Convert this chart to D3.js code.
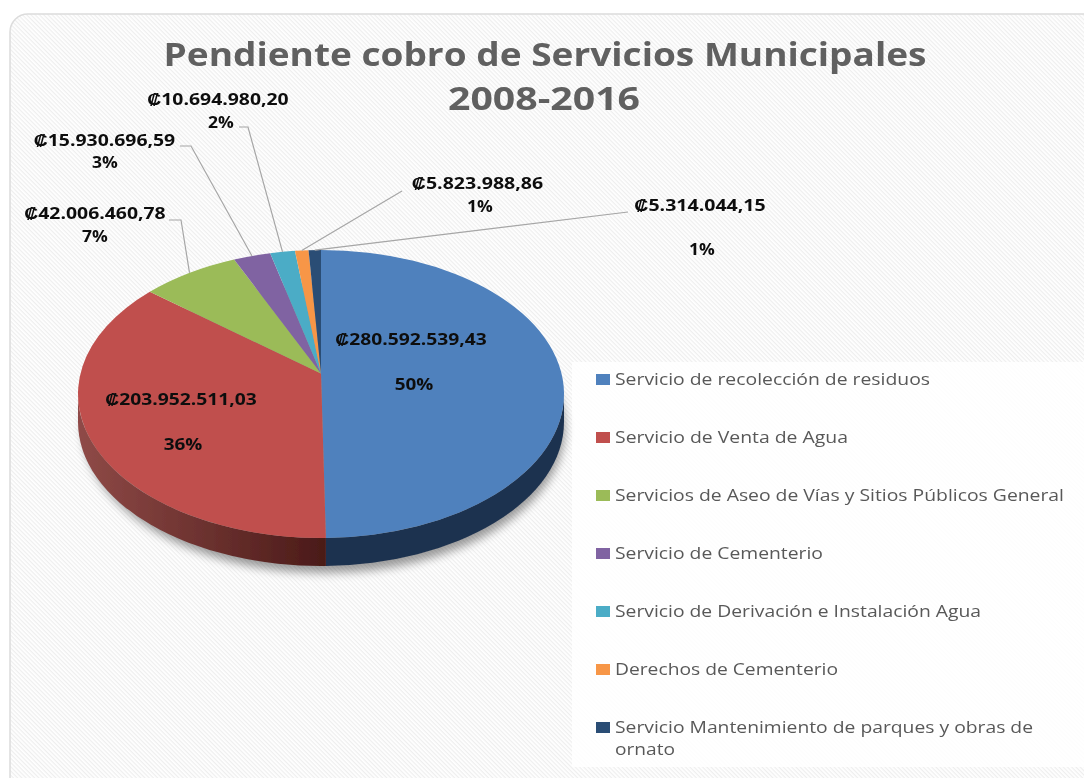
<!DOCTYPE html>
<html><head><meta charset="utf-8">
<style>html,body{margin:0;padding:0;background:#fff}svg{display:block}</style>
<script src="https://cdn.jsdelivr.net/npm/d3@7/dist/d3.min.js"></script>
</head><body><svg id="c" width="1084" height="778"></svg>
<script>
const titleLines = ["Pendiente cobro de Servicios Municipales", "2008-2016"];
const categories = ["Servicio de recolección de residuos","Servicio de Venta de Agua","Servicios de Aseo de Vías y Sitios Públicos General","Servicio de Cementerio","Servicio de Derivación e Instalación Agua","Derechos de Cementerio","Servicio Mantenimiento de parques y obras de ornato"];
const values = [280592539.43,203952511.03,42006460.78,15930696.59,10694980.20,5823988.86,5314044.15];
const colors = ["#4f81bd","#c0504d","#9bbb59","#8064a2","#4bacc6","#f79646","#2c4d75"];

// layout only
const W=1084,H=778,cx=321,cy=394,rx=243,ry=144,depth=28,tilt=0.866;
const labelPos=[[411,345,414,390],[181,405,183,450],[95,219,95,242],[104.5,146,105,168],[218,105,221,128],[477.5,189,480,212],[700,211,702,255]];
const elbows=[null,null,[[169,220],[181,220]],[[180,146],[191,146]],[[239,127],[248,127]],[[402,191]],[[628,212]]];
const legendWidths=[[315],[233],[449],[208],[366],[223],[418,60]];
const legendSplit={6:["Servicio Mantenimiento de parques y obras de","ornato"]};

const svg=d3.select("#c");
const defs=svg.append("defs");
const pat=defs.append("pattern").attr("id","hatch").attr("width",3).attr("height",3).attr("patternUnits","userSpaceOnUse").attr("patternTransform","rotate(45)");
pat.append("rect").attr("width",3).attr("height",3).attr("fill","#ffffff");
pat.append("rect").attr("width",3).attr("height",1.2).attr("fill","#eeeeee");
const gr=defs.append("linearGradient").attr("id","redWall").attr("gradientUnits","userSpaceOnUse").attr("x1",cx-rx).attr("x2",cx+5).attr("y1",0).attr("y2",0);
gr.append("stop").attr("offset",0).attr("stop-color","#8f4a47");
gr.append("stop").attr("offset",1).attr("stop-color","#4a1a18");
defs.append("filter").attr("id","blur").attr("x","-20%").attr("y","-20%").attr("width","140%").attr("height","140%").append("feGaussianBlur").attr("stdDeviation",5);
defs.append("filter").attr("id","soft").attr("x","-5%").attr("y","-20%").attr("width","110%").attr("height","140%").append("feGaussianBlur").attr("stdDeviation",0.6);
defs.append("filter").attr("id","softer").attr("x","-5%").attr("y","-5%").attr("width","110%").attr("height","110%").append("feGaussianBlur").attr("stdDeviation",0.5);

svg.append("rect").attr("x",10).attr("y",14).attr("width",1110).attr("height",800).attr("rx",18)
  .attr("fill","url(#hatch)").attr("stroke","#dcdcdc").attr("stroke-width",1.5);
svg.append("rect").attr("x",572).attr("y",362).attr("width",512).attr("height",405).attr("fill","#ffffff").attr("opacity",0.85);

const slices=d3.pie().sort(null).value(d=>d)(values);
const total=d3.sum(values);
const proj=a=>2*Math.atan2(tilt*Math.sin(a/2),Math.cos(a/2));
const pt=(t,dy=0)=>[cx+rx*Math.sin(t),cy-ry*Math.cos(t)+dy];
const apex=[cx,pt(proj(Math.PI/2))[1]];

const chart=svg.append("g").attr("filter","url(#softer)");
// shadow
svg.insert("ellipse","g").attr("cx",cx+3).attr("cy",cy+depth+6).attr("rx",rx-2).attr("ry",ry+1).attr("fill","#000").attr("opacity",0.38).attr("filter","url(#blur)");

// walls
const wallPath=(t0,t1)=>{
  const a=pt(t0),b=pt(t1),c=pt(t1,depth),d=pt(t0,depth);
  return `M${a}A${rx},${ry} 0 0 1 ${b}L${c}A${rx},${ry} 0 0 0 ${d}Z`;
};
const wallFill=["#1f3350","url(#redWall)"];
slices.forEach((s,i)=>{
  const t0=Math.max(proj(s.startAngle),Math.PI/2),t1=Math.min(proj(s.endAngle),3*Math.PI/2);
  if(t1>t0) chart.append("path").attr("d",wallPath(t0,t1)).attr("fill",wallFill[i]||colors[i]);
});
// top faces
chart.selectAll("path.slice").data(slices).join("path").attr("class","slice")
  .attr("fill",(d,i)=>colors[i])
  .attr("d",d=>{
    const t0=proj(d.startAngle),t1=proj(d.endAngle);
    const a=pt(t0),b=pt(t1);
    return `M${apex}L${a}A${rx},${ry} 0 ${t1-t0>Math.PI?1:0} 1 ${b}Z`;
  });

// leaders
const line=d3.line();
slices.forEach((s,i)=>{
  if(!elbows[i]) return;
  const anchor=pt(proj((s.startAngle+s.endAngle)/2));
  chart.append("path").attr("d",line([...elbows[i],anchor])).attr("fill","none").attr("stroke","#a6a6a6").attr("stroke-width",1.2);
});

// labels
const loc=d3.formatLocale({decimal:",",thousands:".",grouping:[3],currency:["₡",""]});
const fmtV=loc.format("$,.2f"),fmtP=d3.format(".0%");
const font='"Open Sans","Liberation Sans","DejaVu Sans",sans-serif';
const txt=svg.append("g").attr("font-family",font).attr("filter","url(#soft)");
values.forEach((v,i)=>{
  const p=labelPos[i],vt=fmtV(v),pt2=fmtP(v/total);
  txt.append("text").attr("x",p[0]).attr("y",p[1]).attr("text-anchor","middle").attr("font-size",16).attr("font-weight",700).attr("fill","#111")
    .attr("textLength",vt.length*10.1).attr("lengthAdjust","spacingAndGlyphs").text(vt);
  txt.append("text").attr("x",p[2]).attr("y",p[3]).attr("text-anchor","middle").attr("font-size",16).attr("font-weight",700).attr("fill","#111")
    .attr("textLength",pt2.length*12.9).attr("lengthAdjust","spacingAndGlyphs").text(pt2);
});
// title
const tw=[763,192],ty=[66,110];
titleLines.forEach((t,i)=>{
  txt.append("text").attr("x",i?544:545).attr("y",ty[i]).attr("text-anchor","middle").attr("font-size",32).attr("font-weight",700).attr("fill","#606060")
    .attr("textLength",tw[i]).attr("lengthAdjust","spacingAndGlyphs").text(t);
});
// legend
const rowY=d3.scalePoint().domain(d3.range(categories.length)).range([379,727]);
categories.forEach((c,i)=>{
  const y=rowY(i);
  txt.append("rect").attr("x",596).attr("y",y-5).attr("width",14).attr("height",11).attr("fill",colors[i]);
  (legendSplit[i]||[c]).forEach((l,j)=>{
    txt.append("text").attr("x",615).attr("y",y+6+j*22).attr("font-size",16).attr("fill","#595959")
      .attr("textLength",legendWidths[i][j]).attr("lengthAdjust","spacingAndGlyphs").text(l);
  });
});
</script></body></html>
